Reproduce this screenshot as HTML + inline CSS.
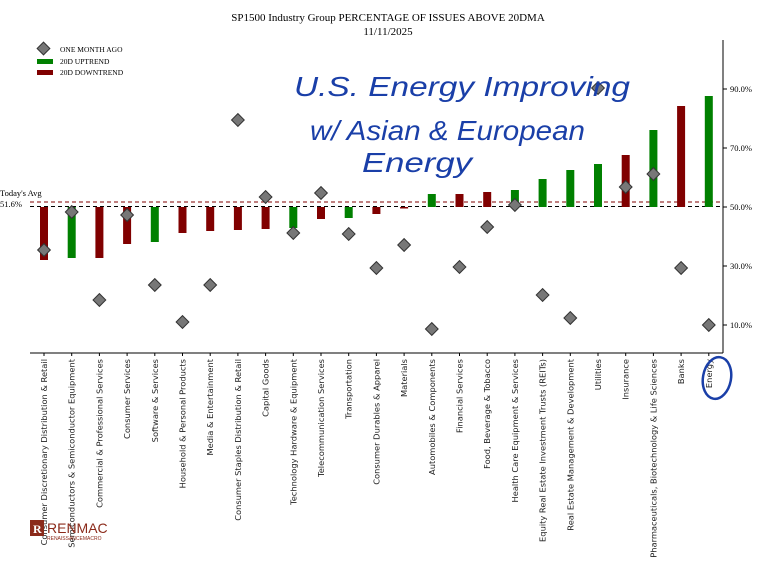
<!DOCTYPE html>
<html><head><meta charset="utf-8"><style>body{margin:0;background:#fff}svg{display:block}</style></head><body>
<svg width="757" height="575" xmlns="http://www.w3.org/2000/svg" font-family="Liberation Serif, serif">
<text x="388" y="21" font-size="11" text-anchor="middle">SP1500 Industry Group PERCENTAGE OF ISSUES ABOVE 20DMA</text>
<text x="388" y="35" font-size="11" text-anchor="middle">11/11/2025</text>
<!-- legend -->
<rect x="39" y="44" width="9" height="9" fill="#777" stroke="#333" transform="rotate(45 43.5 48.5)"/>
<text x="60" y="52" font-size="7.5">ONE MONTH AGO</text>
<rect x="37" y="59" width="16" height="5" fill="#008000"/>
<text x="60" y="64" font-size="7.5">20D UPTREND</text>
<rect x="37" y="70" width="16" height="5" fill="#800000"/>
<text x="60" y="75" font-size="7.5">20D DOWNTREND</text>
<!-- axes -->
<line x1="30" y1="353" x2="723" y2="353" stroke="#000"/>
<line x1="723" y1="40" x2="723" y2="353" stroke="#000"/>
<g font-size="8.5">
<line x1="723" y1="325" x2="727" y2="325" stroke="#000"/><text x="730" y="328">10.0%</text>
<line x1="723" y1="266" x2="727" y2="266" stroke="#000"/><text x="730" y="269">30.0%</text>
<line x1="723" y1="207" x2="727" y2="207" stroke="#000"/><text x="730" y="210">50.0%</text>
<line x1="723" y1="148" x2="727" y2="148" stroke="#000"/><text x="730" y="151">70.0%</text>
<line x1="723" y1="89" x2="727" y2="89" stroke="#000"/><text x="730" y="92">90.0%</text>
</g>
<text x="0" y="196" font-size="8.5">Today's Avg</text>
<text x="0" y="207" font-size="8.5">51.6%</text>
<line x1="30" y1="202" x2="723" y2="202" stroke="#800000" stroke-dasharray="4,3"/>
<line x1="30" y1="206.5" x2="723" y2="206.5" stroke="#000" stroke-dasharray="4,3"/>
<!-- bars -->
<g>
<rect x="40" y="207" width="8" height="53" fill="#800000"/>
<rect x="67.7" y="207" width="8" height="51" fill="#008000"/>
<rect x="95.4" y="207" width="8" height="51" fill="#800000"/>
<rect x="123.1" y="207" width="8" height="37" fill="#800000"/>
<rect x="150.8" y="207" width="8" height="35" fill="#008000"/>
<rect x="178.5" y="207" width="8" height="26" fill="#800000"/>
<rect x="206.2" y="207" width="8" height="24" fill="#800000"/>
<rect x="233.9" y="207" width="8" height="23" fill="#800000"/>
<rect x="261.6" y="207" width="8" height="22" fill="#800000"/>
<rect x="289.3" y="207" width="8" height="21" fill="#008000"/>
<rect x="317" y="207" width="8" height="12" fill="#800000"/>
<rect x="344.7" y="207" width="8" height="11" fill="#008000"/>
<rect x="372.4" y="207" width="8" height="7" fill="#800000"/>
<rect x="400.1" y="207" width="8" height="1.5" fill="#800000"/>
<rect x="427.8" y="194" width="8" height="13" fill="#008000"/>
<rect x="455.5" y="194" width="8" height="13" fill="#800000"/>
<rect x="483.2" y="192" width="8" height="15" fill="#800000"/>
<rect x="510.9" y="190" width="8" height="17" fill="#008000"/>
<rect x="538.6" y="179" width="8" height="28" fill="#008000"/>
<rect x="566.3" y="170" width="8" height="37" fill="#008000"/>
<rect x="594" y="164" width="8" height="43" fill="#008000"/>
<rect x="621.7" y="155" width="8" height="52" fill="#800000"/>
<rect x="649.4" y="130" width="8" height="77" fill="#008000"/>
<rect x="677.1" y="106" width="8" height="101" fill="#800000"/>
<rect x="704.8" y="96" width="8" height="111" fill="#008000"/>
</g>
<!-- diamonds -->
<g fill="#777" stroke="#333">
<rect x="39.5" y="245.5" width="9" height="9" transform="rotate(45 44 250)"/>
<rect x="67.2" y="207.5" width="9" height="9" transform="rotate(45 71.7 212)"/>
<rect x="94.9" y="295.5" width="9" height="9" transform="rotate(45 99.4 300)"/>
<rect x="122.6" y="210.5" width="9" height="9" transform="rotate(45 127.1 215)"/>
<rect x="150.3" y="280.5" width="9" height="9" transform="rotate(45 154.8 285)"/>
<rect x="178" y="317.5" width="9" height="9" transform="rotate(45 182.5 322)"/>
<rect x="205.7" y="280.5" width="9" height="9" transform="rotate(45 210.2 285)"/>
<rect x="233.4" y="115.5" width="9" height="9" transform="rotate(45 237.9 120)"/>
<rect x="261.1" y="192.5" width="9" height="9" transform="rotate(45 265.6 197)"/>
<rect x="288.8" y="228.5" width="9" height="9" transform="rotate(45 293.3 233)"/>
<rect x="316.5" y="188.5" width="9" height="9" transform="rotate(45 321 193)"/>
<rect x="344.2" y="229.5" width="9" height="9" transform="rotate(45 348.7 234)"/>
<rect x="371.9" y="263.5" width="9" height="9" transform="rotate(45 376.4 268)"/>
<rect x="399.6" y="240.5" width="9" height="9" transform="rotate(45 404.1 245)"/>
<rect x="427.3" y="324.5" width="9" height="9" transform="rotate(45 431.8 329)"/>
<rect x="455" y="262.5" width="9" height="9" transform="rotate(45 459.5 267)"/>
<rect x="482.7" y="222.5" width="9" height="9" transform="rotate(45 487.2 227)"/>
<rect x="510.4" y="200.5" width="9" height="9" transform="rotate(45 514.9 205)"/>
<rect x="538.1" y="290.5" width="9" height="9" transform="rotate(45 542.6 295)"/>
<rect x="565.8" y="313.5" width="9" height="9" transform="rotate(45 570.3 318)"/>
<rect x="593.5" y="83.5" width="9" height="9" transform="rotate(45 598 88)"/>
<rect x="621.2" y="182.5" width="9" height="9" transform="rotate(45 625.7 187)"/>
<rect x="648.9" y="169.5" width="9" height="9" transform="rotate(45 653.4 174)"/>
<rect x="676.6" y="263.5" width="9" height="9" transform="rotate(45 681.1 268)"/>
<rect x="704.3" y="320.5" width="9" height="9" transform="rotate(45 708.8 325)"/>
</g>
<!-- x labels -->
<g font-family="DejaVu Sans, sans-serif" font-size="8.3" text-anchor="end" fill="#222">
<text transform="translate(47,359) rotate(-90)">Consumer Discretionary Distribution &amp; Retail</text>
<text transform="translate(74.7,359) rotate(-90)">Semiconductors &amp; Semiconductor Equipment</text>
<text transform="translate(102.4,359) rotate(-90)">Commercial  &amp; Professional Services</text>
<text transform="translate(130.1,359) rotate(-90)">Consumer Services</text>
<text transform="translate(157.8,359) rotate(-90)">Software &amp; Services</text>
<text transform="translate(185.5,359) rotate(-90)">Household &amp; Personal Products</text>
<text transform="translate(213.2,359) rotate(-90)">Media &amp; Entertainment</text>
<text transform="translate(240.9,359) rotate(-90)">Consumer Staples Distribution &amp; Retail</text>
<text transform="translate(268.6,359) rotate(-90)">Capital Goods</text>
<text transform="translate(296.3,359) rotate(-90)">Technology Hardware &amp; Equipment</text>
<text transform="translate(324,359) rotate(-90)">Telecommunication Services</text>
<text transform="translate(351.7,359) rotate(-90)">Transportation</text>
<text transform="translate(379.4,359) rotate(-90)">Consumer Durables &amp; Apparel</text>
<text transform="translate(407.1,359) rotate(-90)">Materials</text>
<text transform="translate(434.8,359) rotate(-90)">Automobiles &amp; Components</text>
<text transform="translate(462.5,359) rotate(-90)">Financial Services</text>
<text transform="translate(490.2,359) rotate(-90)">Food, Beverage &amp; Tobacco</text>
<text transform="translate(517.9,359) rotate(-90)">Health Care Equipment &amp; Services</text>
<text transform="translate(545.6,359) rotate(-90)">Equity Real Estate Investment Trusts (REITs)</text>
<text transform="translate(573.3,359) rotate(-90)">Real Estate Management &amp; Development</text>
<text transform="translate(601,359) rotate(-90)">Utilities</text>
<text transform="translate(628.7,359) rotate(-90)">Insurance</text>
<text transform="translate(656.4,359) rotate(-90)">Pharmaceuticals, Biotechnology &amp; Life Sciences</text>
<text transform="translate(684.1,359) rotate(-90)">Banks</text>
<text transform="translate(711.8,359) rotate(-90)">Energy</text>
</g>
<g stroke="#000">
<line x1="44" y1="353" x2="44" y2="356"/><line x1="71.7" y1="353" x2="71.7" y2="356"/><line x1="99.4" y1="353" x2="99.4" y2="356"/><line x1="127.1" y1="353" x2="127.1" y2="356"/><line x1="154.8" y1="353" x2="154.8" y2="356"/><line x1="182.5" y1="353" x2="182.5" y2="356"/><line x1="210.2" y1="353" x2="210.2" y2="356"/><line x1="237.9" y1="353" x2="237.9" y2="356"/><line x1="265.6" y1="353" x2="265.6" y2="356"/><line x1="293.3" y1="353" x2="293.3" y2="356"/><line x1="321" y1="353" x2="321" y2="356"/><line x1="348.7" y1="353" x2="348.7" y2="356"/><line x1="376.4" y1="353" x2="376.4" y2="356"/><line x1="404.1" y1="353" x2="404.1" y2="356"/><line x1="431.8" y1="353" x2="431.8" y2="356"/><line x1="459.5" y1="353" x2="459.5" y2="356"/><line x1="487.2" y1="353" x2="487.2" y2="356"/><line x1="514.9" y1="353" x2="514.9" y2="356"/><line x1="542.6" y1="353" x2="542.6" y2="356"/><line x1="570.3" y1="353" x2="570.3" y2="356"/><line x1="598" y1="353" x2="598" y2="356"/><line x1="625.7" y1="353" x2="625.7" y2="356"/><line x1="653.4" y1="353" x2="653.4" y2="356"/><line x1="681.1" y1="353" x2="681.1" y2="356"/><line x1="708.8" y1="353" x2="708.8" y2="356"/>
</g>
<!-- handwriting -->
<g fill="#1a3fa8" font-family="Liberation Sans, sans-serif" font-style="italic" font-size="28">
<text x="294" y="96" textLength="336" lengthAdjust="spacingAndGlyphs">U.S. Energy Improving</text>
<text x="310" y="140" textLength="275" lengthAdjust="spacingAndGlyphs">w/ Asian &amp; European</text>
<text x="362" y="172" textLength="110" lengthAdjust="spacingAndGlyphs">Energy</text>
</g>
<ellipse cx="717" cy="378" rx="14" ry="21" fill="none" stroke="#1a3fa8" stroke-width="2.5" transform="rotate(10 717 378)"/>
<!-- logo -->
<rect x="30" y="520" width="14" height="16" fill="#8b2a1a"/>
<text x="33" y="533" font-size="12" fill="#fff" font-weight="bold">R</text>
<text x="47" y="533" font-size="14" fill="#8b2a1a" font-family="Liberation Sans, sans-serif">RENMAC</text>
<text x="47" y="540" font-size="5" fill="#8b2a1a" font-family="Liberation Sans, sans-serif">RENAISSANCEMACRO</text>
</svg>
</body></html>
